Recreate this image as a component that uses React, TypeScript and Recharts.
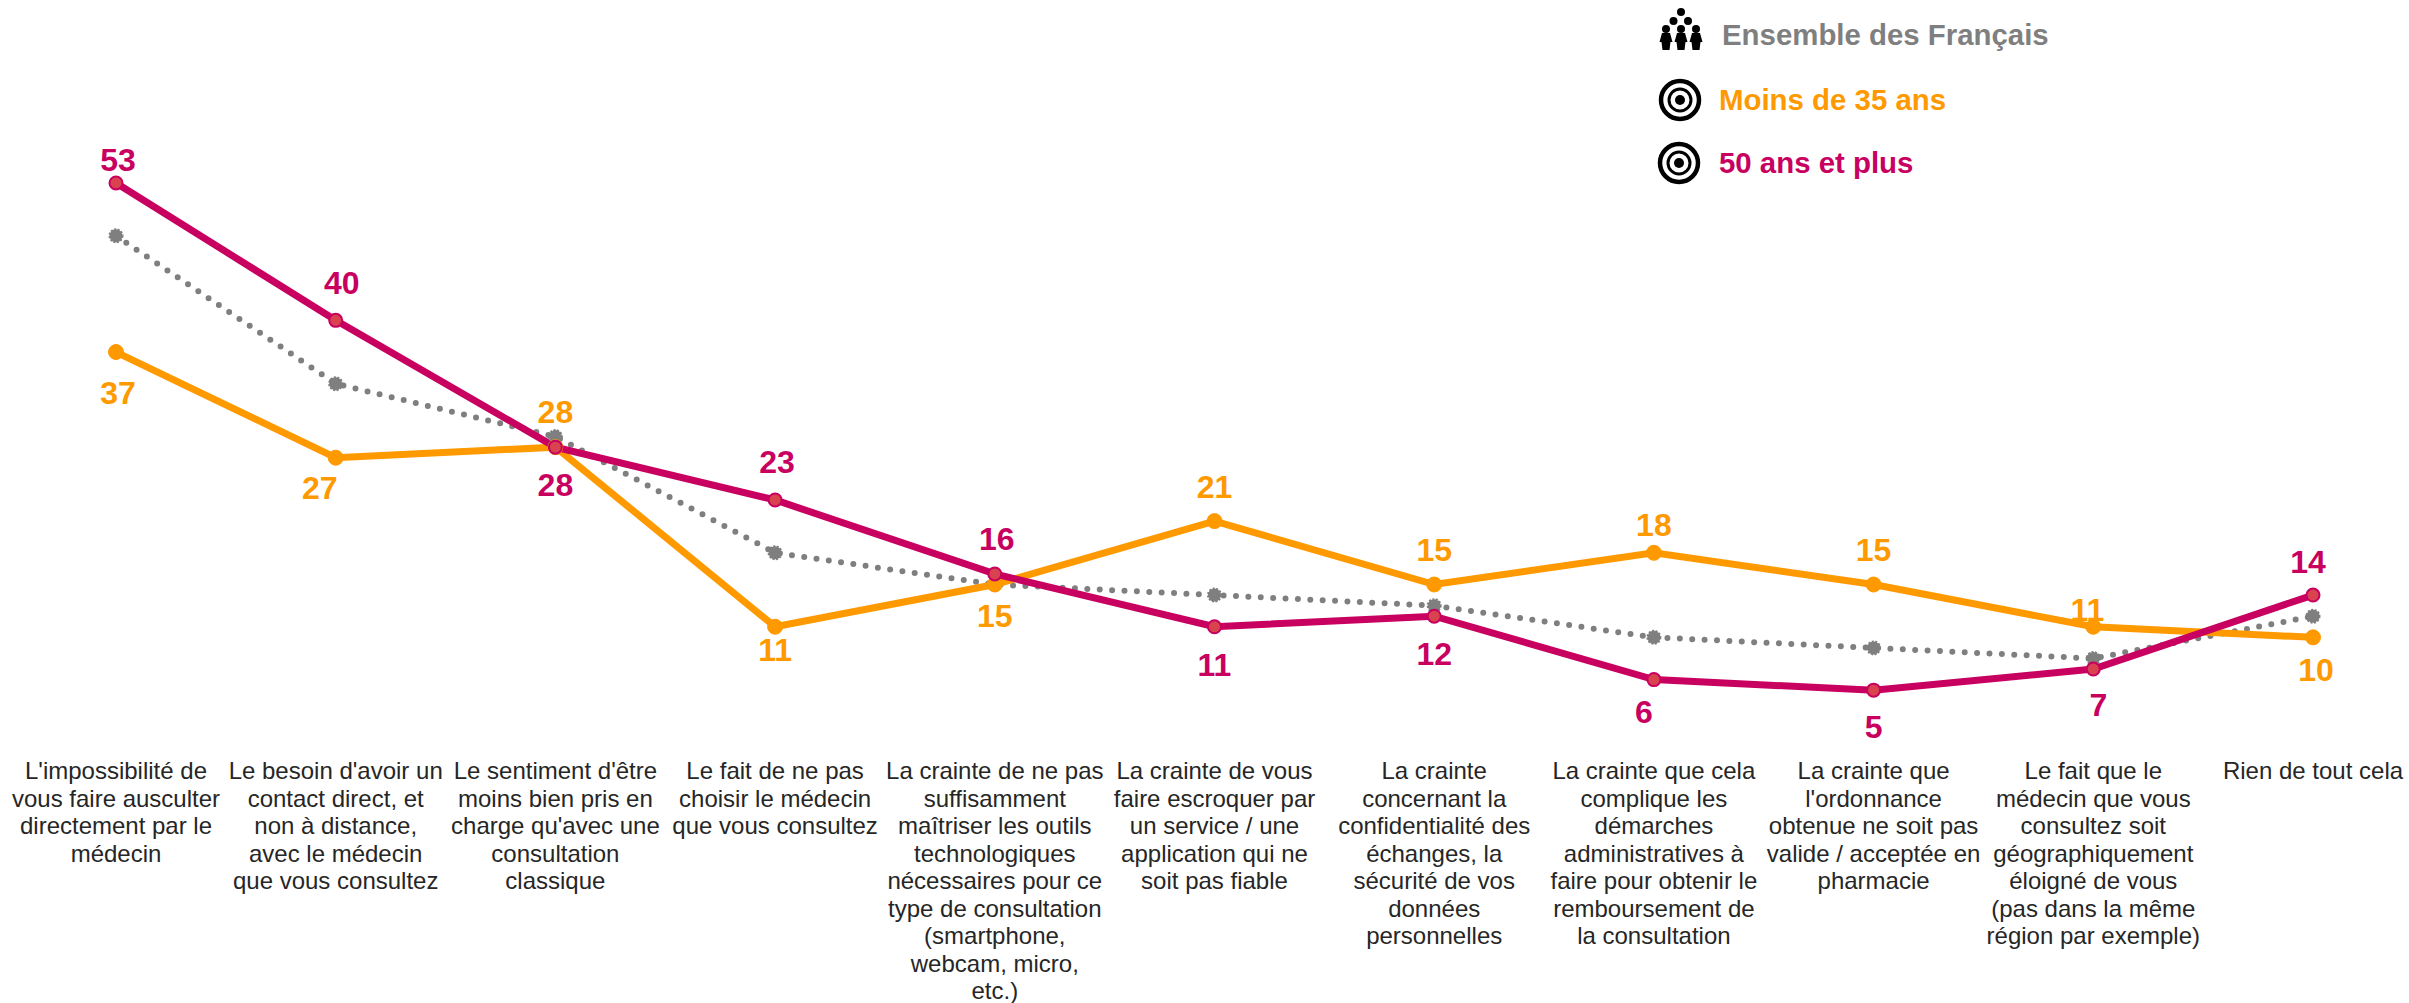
import { LineChart, Line, XAxis, YAxis, LabelList } from "recharts";

// category labels, wrapped the way the picture wraps them
const categories = [
  "L'impossibilité de\nvous faire ausculter\ndirectement par le\nmédecin",
  "Le besoin d'avoir un\ncontact direct, et\nnon à distance,\navec le médecin\nque vous consultez",
  "Le sentiment d'être\nmoins bien pris en\ncharge qu'avec une\nconsultation\nclassique",
  "Le fait de ne pas\nchoisir le médecin\nque vous consultez",
  "La crainte de ne pas\nsuffisamment\nmaîtriser les outils\ntechnologiques\nnécessaires pour ce\ntype de consultation\n(smartphone,\nwebcam, micro,\netc.)",
  "La crainte de vous\nfaire escroquer par\nun service / une\napplication qui ne\nsoit pas fiable",
  "La crainte\nconcernant la\nconfidentialité des\néchanges, la\nsécurité de vos\ndonnées\npersonnelles",
  "La crainte que cela\ncomplique les\ndémarches\nadministratives à\nfaire pour obtenir le\nremboursement de\nla consultation",
  "La crainte que\nl'ordonnance\nobtenue ne soit pas\nvalide / acceptée en\npharmacie",
  "Le fait que le\nmédecin que vous\nconsultez soit\ngéographiquement\néloigné de vous\n(pas dans la même\nrégion par exemple)",
  "Rien de tout cela",
];
const ensemble = [48, 34, 29, 18, 15, 14, 13, 10, 9, 8, 12];
const moins35 = [37, 27, 28, 11, 15, 21, 15, 18, 15, 11, 10];
const plus50 = [53, 40, 28, 23, 16, 11, 12, 6, 5, 7, 14];

// where each value label sits relative to its point
const moins35Shift = [[2, 41], [-16, 30], [0, -35], [0, 23], [0, 31], [0, -34], [0, -35], [0, -28], [0, -35], [-6, -17], [3, 33]];
const plus50Shift = [[2, -23], [6, -37], [0, 38], [2, -38], [2, -35], [0, 38], [0, 38], [-10, 32], [0, 37], [5, 36], [-5, -33]];

const GREY = "#7F7F7F";
const ORANGE = "#FF9900";
const PINK = "#C8005F";
const FONT = "'Liberation Sans', Arial, sans-serif";

const chartData = categories.map((name, i) => ({
  name,
  ensemble: ensemble[i],
  moins35: moins35[i],
  plus50: plus50[i],
}));

const CategoryTick = ({ x, y, payload }: any) => (
  <text x={x} y={y + 28} textAnchor="middle" fontSize={24} fontFamily={FONT} fill="#262626">
    {String(payload.value)
      .split("\n")
      .map((line: string, i: number) => (
        <tspan key={i} x={x} dy={i === 0 ? 0 : 27.5}>
          {line}
        </tspan>
      ))}
  </text>
);

const valueLabel = (shift: number[][], color: string) => (props: any) => {
  const { x, y, value, index } = props;
  return (
    <text
      x={x + shift[index][0]}
      y={y + shift[index][1]}
      textAnchor="middle"
      dominantBaseline="central"
      fontSize={32}
      fontWeight="bold"
      fontFamily={FONT}
      fill={color}
    >
      {value}
    </text>
  );
};

const GreyDot = ({ cx, cy, index }: any) => (
  <circle key={index} cx={cx} cy={cy} r={6.5} fill={GREY} stroke={GREY} strokeWidth={2} strokeDasharray="2 1.5" />
);

const Target = ({ cx, cy }: { cx: number; cy: number }) => (
  <svg style={{ position: "absolute", left: cx - 22, top: cy - 22 }} width={44} height={44}>
    <circle cx={22} cy={22} r={19} fill="none" stroke="#000" strokeWidth={4.5} />
    <circle cx={22} cy={22} r={11} fill="none" stroke="#000" strokeWidth={3} />
    <circle cx={22} cy={22} r={5} fill="#000" />
  </svg>
);

const People = () => (
  <svg style={{ position: "absolute", left: 1658, top: 6 }} width={46} height={46} viewBox="0 0 46 46">
    <circle cx={23} cy={6} r={4} />
    <circle cx={15.5} cy={15} r={4} />
    <circle cx={30} cy={15} r={4} />
    {[8, 23, 38].map((c) => (
      <g key={c}>
        <circle cx={c} cy={23} r={4} />
        <path d={`M${c - 4} 27 h8 l2.5 9 h-2 l-1 8 h-7 l-1 -8 h-2 z`} />
      </g>
    ))}
  </svg>
);

const legendText = (left: number, top: number, color: string, label: string) => (
  <div
    style={{
      position: "absolute",
      left,
      top: top - 20,
      height: 40,
      lineHeight: "40px",
      fontFamily: FONT,
      fontWeight: "bold",
      fontSize: 29.4,
      color,
      whiteSpace: "nowrap",
    }}
  >
    {label}
  </div>
);

const App = () => (
  <div style={{ position: "absolute", left: 0, top: 0, width: 2409, height: 1003, background: "#fff", overflow: "hidden" }}>
    <LineChart width={2409} height={1003} data={chartData} margin={{ top: 109, right: 96, left: 116, bottom: 0 }}>
      <XAxis dataKey="name" height={260} interval={0} axisLine={false} tickLine={false} tick={<CategoryTick />} />
      <YAxis domain={[0, 60]} hide />
      <Line
        dataKey="ensemble"
        stroke={GREY}
        strokeWidth={6}
        strokeLinecap="round"
        strokeDasharray="0 12.4"
        dot={<GreyDot />}
        isAnimationActive={false}
      />
      <Line
        dataKey="moins35"
        stroke={ORANGE}
        strokeWidth={7}
        dot={{ r: 7.5, fill: ORANGE, stroke: ORANGE, strokeWidth: 1 }}
        isAnimationActive={false}
      >
        <LabelList dataKey="moins35" content={valueLabel(moins35Shift, ORANGE)} />
      </Line>
      <Line
        dataKey="plus50"
        stroke={PINK}
        strokeWidth={7}
        dot={{ r: 6.5, fill: "#D9434F", stroke: PINK, strokeWidth: 2 }}
        isAnimationActive={false}
      >
        <LabelList dataKey="plus50" content={valueLabel(plus50Shift, PINK)} />
      </Line>
    </LineChart>
    <People />
    {legendText(1722, 35, GREY, "Ensemble des Français")}
    <Target cx={1680} cy={100} />
    {legendText(1719, 100, ORANGE, "Moins de 35 ans")}
    <Target cx={1679} cy={163} />
    {legendText(1719, 163, PINK, "50 ans et plus")}
  </div>
);

export default App;
